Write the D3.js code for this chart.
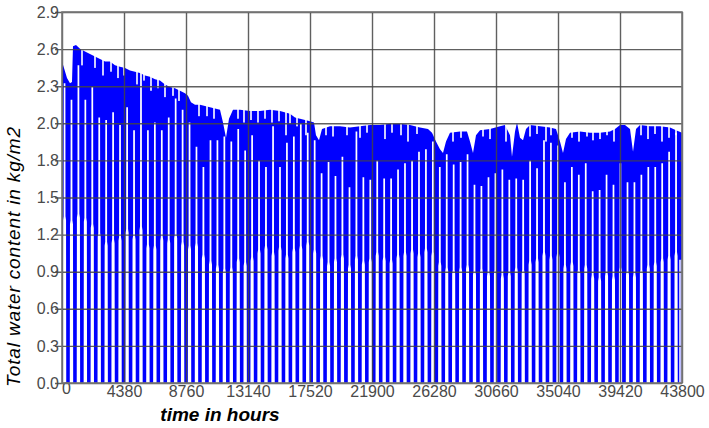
<!DOCTYPE html>
<html><head><meta charset="utf-8">
<script src="https://cdn.jsdelivr.net/npm/d3@7"></script>
<style>body{margin:0;background:#fff} svg{display:block}</style>
</head><body><svg id="chart" width="709" height="428"></svg>
<script>
// ---- data ----
const xTicks = [0,4380,8760,13140,17520,21900,26280,30660,35040,39420,43800];
const yTickValues = [0,0.292,0.584,0.876,1.168,1.46,1.752,2.044,2.336,2.628,2.92];
const yTickLabels = ["0.0","0.3","0.6","0.9","1.2","1.5","1.8","2.0","2.3","2.6","2.9"];

// upper envelope of the water-content curve (hour, kg/m2)
const envHours = [0,141,353,565,706,777,989,1272,1625,1978,2331,2685,3038,3391,3744,4097,4451,4804,5157,5510,5864,6217,6570,6923,7276,7630,7983,8336,8689,8901,9113,9396,9749,10102,10455,10809,11162,11374,11586,11798,12080,12575,13281,13988,14694,15401,16107,16460,16814,17167,17520,17803,17944,18156,18368,18933,19639,20346,21052,21759,22465,23172,23878,24584,25291,25856,26139,26421,26704,26916,27128,27410,28117,28611,28823,29035,29247,29530,30236,30943,31296,31649,31790,32003,32144,32356,32568,32780,33062,33769,34475,34899,35181,35393,35605,35888,36594,37301,38007,38713,39067,39420,39773,40127,40339,40551,40833,41540,42246,42953,43377,43800];
const envValues = [2.53,2.48,2.40,2.36,2.37,2.65,2.66,2.63,2.61,2.59,2.57,2.55,2.53,2.53,2.50,2.49,2.48,2.46,2.45,2.44,2.42,2.41,2.39,2.38,2.35,2.33,2.32,2.30,2.28,2.26,2.21,2.19,2.19,2.18,2.17,2.16,2.15,2.05,1.93,2.08,2.15,2.15,2.14,2.14,2.15,2.14,2.12,2.09,2.08,2.07,2.06,2.05,1.95,1.91,2.00,2.02,2.02,2.01,2.02,2.03,2.03,2.04,2.04,2.03,2.01,2.00,1.97,1.90,1.84,1.81,1.90,1.97,1.98,1.98,1.90,1.81,1.95,1.99,2.00,2.02,2.03,1.95,1.78,1.98,2.05,1.93,1.91,2.00,2.03,2.02,2.01,2.00,1.90,1.81,1.92,1.97,1.98,1.97,1.97,1.98,2.00,2.03,2.03,2.00,1.82,2.00,2.03,2.02,2.02,2.01,1.99,1.97];

// short downward spikes on the upper edge (hour, lowest value of the spike)
const notchHours = [1413,2331,2896,3462,3956,4380,5298,5793,6287,6782,7276,7841,8265,9678,10244,10738,12434,12857,13352,13846,14341,14835,15330,15825,16107,16602,17237,18650,19145,20134,21052,21547,22818,23313,23949,24443,25079,27622,28187,29742,30236,31366,33062,33557,34192,34545,36029,36523,37088,37512,38007,38502,38996,40904,41398,41893,42387,42882,43377];
const notchLows = [2.50,2.48,2.42,2.45,2.40,2.42,2.35,2.38,2.30,2.32,2.25,2.26,2.22,2.10,2.10,2.08,2.08,2.05,2.07,2.05,2.08,2.05,2.06,1.95,2.04,2.02,1.95,1.95,1.94,1.95,1.93,1.97,1.92,1.97,1.95,1.90,1.96,1.90,1.93,1.94,1.92,1.90,1.94,1.96,1.90,1.95,1.93,1.90,1.94,1.91,1.92,1.95,1.90,1.95,1.92,1.96,1.90,1.93,1.95];

// periodic drops of the curve towards zero (hour of drop, top of the gap, level where gap widens)
const gapHours = [180,670,1160,1650,2140,2630,3120,3610,4100,4600,5090,5580,6070,6560,7050,7540,8030,8520,9010,9500,9990,10490,10980,11470,11960,12450,12940,13430,13920,14410,14910,15400,15890,16380,16870,17360,17850,18340,18830,19320,19810,20310,20800,21290,21780,22270,22760,23250,23740,24230,24730,25220,25710,26200,26690,27180,27670,28160,28650,29140,29630,30130,30620,31110,31600,32090,32580,33070,33560,34050,34540,35040,35530,36020,36510,37000,37490,37980,38470,38960,39450,39950,40440,40930,41420,41910,42400,42890,43380];
const gapTops = [2.36,2.23,2.50,2.23,2.33,2.09,2.07,2.13,2.03,2.17,1.99,2.44,1.99,2.05,1.99,2.09,2.24,2.15,2.05,1.86,1.70,1.91,1.91,1.94,1.90,2.00,1.83,1.95,1.75,1.70,2.02,1.70,1.89,1.94,2.04,1.97,1.91,1.65,1.74,1.63,1.78,1.54,1.98,1.62,1.60,1.75,1.61,1.61,1.68,1.73,1.75,1.82,1.84,1.90,1.70,1.80,1.72,1.74,1.80,1.56,1.55,1.62,1.65,1.68,1.60,1.61,1.60,1.75,1.69,1.91,1.89,1.87,1.58,1.70,1.64,1.73,1.51,1.52,1.64,1.56,1.73,1.58,1.58,1.64,1.70,1.70,1.73,1.82,1.97];
const gapShoulders = [1.28,1.25,1.30,1.27,1.22,1.15,1.08,1.10,1.12,1.18,1.13,1.20,1.06,1.05,1.12,1.10,1.14,1.08,1.05,1.07,0.98,0.93,0.90,0.87,0.88,0.95,0.92,0.96,1.02,1.05,1.00,1.04,0.98,1.03,1.05,1.08,1.02,0.97,0.92,0.95,0.98,0.90,0.97,0.93,0.95,1.00,0.96,0.94,0.98,1.00,1.02,0.99,1.03,1.00,0.92,0.88,0.86,0.88,0.90,0.85,0.87,0.84,0.86,0.82,0.84,0.88,0.86,0.93,0.95,1.00,0.97,0.99,0.90,0.92,0.86,0.90,0.82,0.80,0.84,0.81,0.88,0.85,0.83,0.86,0.90,0.92,0.95,0.97,1.00];
const endHour = 43800, endValue = 0.97;

// ---- drawing ----
const svg = d3.select("#chart");
const L = 62, R = 682, T = 12, B = 383;
const x = d3.scaleLinear().domain([0, 43800]).range([L, R]);
const y = d3.scaleLinear().domain([0, 2.92]).range([B, T]);

svg.append("defs").append("clipPath").attr("id","plotClip")
  .append("rect").attr("x",L).attr("y",T).attr("width",R-L).attr("height",B-T);

const plot = svg.append("g").attr("clip-path","url(#plotClip)");

const env = envHours.map((h,i)=>({h, v: envValues[i]}));
plot.append("path").datum(env)
  .attr("fill","#0000ff")
  .attr("d", d3.area().x(d=>x(d.h)).y0(y(0)).y1(d=>y(d.v)));

const gaps = gapHours.map((h,i)=>({h, top: gapTops[i], sh: gapShoulders[i]}));
plot.selectAll("path.gap").data(gaps).join("path").attr("class","gap")
  .attr("fill","#ffffff")
  .attr("d", d=>{
    const xp = x(d.h), yb = y(0), ys = y(d.sh), yt = y(d.top);
    return d3.line()([[xp-1.7,yb],[xp-1.5,ys],[xp-0.95,ys-4],[xp-0.85,yt],[xp+0.85,yt],[xp+0.95,ys-4],[xp+1.5,ys],[xp+1.7,yb]]) + "Z";
  });

const notches = notchHours.map((h,i)=>({h, lo: notchLows[i]}));
plot.selectAll("rect.notch").data(notches).join("rect").attr("class","notch")
  .attr("x", d=>x(d.h)-0.8).attr("width",1.6)
  .attr("y", T).attr("height", d=>y(d.lo)-T)
  .attr("fill","#ffffff");

plot.append("rect")
  .attr("x", x(endHour)-3).attr("width",3)
  .attr("y", y(endValue)).attr("height", y(0)-y(endValue))
  .attr("fill","#ffffff").attr("opacity",0.75);

// grid + axes
const font = "'Liberation Sans', Arial, sans-serif";
const gy = svg.append("g").attr("transform",`translate(${L},0)`)
  .call(d3.axisLeft(y).tickValues(yTickValues).tickSizeInner(-(R-L)).tickSizeOuter(0).tickPadding(3)
        .tickFormat((d,i)=>yTickLabels[i]));
gy.select(".domain").remove();
gy.selectAll(".tick line").attr("x1",-7).attr("stroke","#444").attr("stroke-width",1.4).attr("opacity",0.85);
gy.selectAll(".tick text").attr("font-family",font).attr("font-size",16).attr("fill","#4a4a4a");

const gx = svg.append("g").attr("transform",`translate(0,${B})`)
  .call(d3.axisBottom(x).tickValues(xTicks).tickSizeInner(-(B-T)).tickSizeOuter(0).tickPadding(3)
        .tickFormat(d3.format("d")));
gx.select(".domain").remove();
gx.selectAll(".tick line").attr("stroke","#444").attr("stroke-width",1.4).attr("opacity",0.85);
gx.selectAll(".tick text").attr("font-family",font).attr("font-size",16).attr("fill","#4a4a4a");
gx.selectAll(".tick text").filter((d,i)=>i===0).attr("dx",4).attr("dy","0.5em");

svg.append("rect").attr("x",L).attr("y",T).attr("width",R-L).attr("height",B-T)
  .attr("fill","none").attr("stroke","#777").attr("stroke-width",1.6);

svg.append("text").attr("x",220).attr("y",421).attr("text-anchor","middle")
  .attr("font-family",font).attr("font-size",19).attr("font-weight","bold").attr("font-style","italic")
  .attr("fill","#000").text("time in hours");

svg.append("text").attr("transform","translate(20,257) rotate(-90)").attr("text-anchor","middle")
  .attr("font-family",font).attr("font-size",19).attr("font-style","italic")
  .attr("textLength",260).attr("lengthAdjust","spacing")
  .attr("fill","#000").text("Total water content in kg/m2");
</script></body></html>
